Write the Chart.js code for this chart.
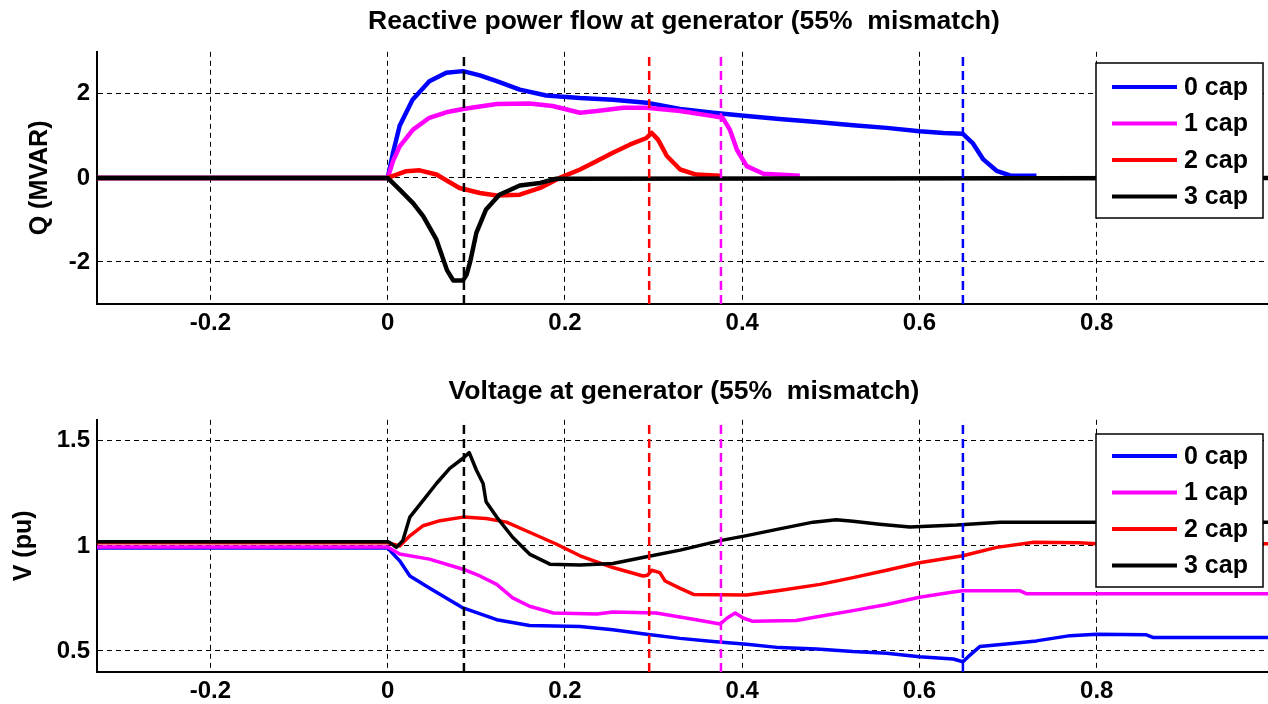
<!DOCTYPE html>
<html>
<head>
<meta charset="utf-8">
<script src="https://cdn.jsdelivr.net/npm/chart.js@4/dist/chart.umd.min.js"></script>
<style>
  html, body { margin: 0; padding: 0; background: #fff; }
  #wrap { position: relative; width: 1268px; height: 704px; overflow: hidden; background: #fff; }
  #wrap canvas { position: absolute; left: 0; }
</style>
</head>
<body>
<div id="wrap">
  <canvas id="graficaQ" width="1368" height="352" style="top:0"></canvas>
  <canvas id="graficaV" width="1368" height="360" style="top:352px"></canvas>
</div>
<script>
// Ejes y marcas
var xMin = -0.328, xMax = 1.0;
var qMin = -3, qMax = 3;
var vMin = 0.4, vMax = 1.6;
var ticksX = [-0.2, 0, 0.2, 0.4, 0.6, 0.8, 1];
var ticksQ = [-2, 0, 2];
var ticksV = [0.5, 1, 1.5];

var nombres = ['0 cap', '1 cap', '2 cap', '3 cap'];
var colores = ['#0000ff', '#ff00ff', '#ff0000', '#000000'];

// instantes de conexión (líneas verticales discontinuas)
var tiemposCorte = [0.086, 0.295, 0.376, 0.649];
var coloresCorte = ['#000000', '#ff0000', '#ff00ff', '#0000ff'];

// Potencia reactiva Q (MVAR)
var tQ0 = [-0.33, 0, 0.006, 0.0135, 0.028, 0.047, 0.066, 0.085, 0.104, 0.123, 0.149, 0.179, 0.217, 0.254, 0.292, 0.330, 0.367, 0.405, 0.442, 0.484, 0.525, 0.563, 0.600, 0.627, 0.649, 0.660, 0.672, 0.687, 0.702, 0.732];
var q0  = [0, 0, 0.6, 1.24, 1.86, 2.3, 2.5, 2.54, 2.44, 2.30, 2.10, 1.96, 1.90, 1.86, 1.79, 1.64, 1.55, 1.47, 1.40, 1.33, 1.25, 1.19, 1.11, 1.07, 1.05, 0.83, 0.44, 0.17, 0.06, 0.05];
var tQ1 = [-0.33, 0, 0.006, 0.0135, 0.0286, 0.047, 0.066, 0.085, 0.123, 0.160, 0.186, 0.217, 0.236, 0.266, 0.292, 0.330, 0.367, 0.378, 0.386, 0.394, 0.405, 0.424, 0.465];
var q1  = [0, 0, 0.4, 0.75, 1.15, 1.43, 1.56, 1.64, 1.76, 1.77, 1.71, 1.55, 1.59, 1.67, 1.67, 1.59, 1.47, 1.43, 1.15, 0.67, 0.28, 0.10, 0.05];
var tQ2 = [-0.33, 0, 0.021, 0.036, 0.055, 0.081, 0.104, 0.123, 0.149, 0.172, 0.194, 0.217, 0.236, 0.254, 0.273, 0.292, 0.298, 0.305, 0.315, 0.330, 0.348, 0.375];
var q2  = [0, 0, 0.16, 0.18, 0.08, -0.24, -0.36, -0.42, -0.40, -0.24, 0, 0.20, 0.40, 0.60, 0.79, 0.95, 1.07, 0.91, 0.52, 0.20, 0.08, 0.05];
var tQ3 = [-0.33, 0, 0.0135, 0.0286, 0.040, 0.055, 0.067, 0.074, 0.085, 0.089, 0.093, 0.100, 0.111, 0.126, 0.149, 0.172, 0.190, 1.05];
var q3  = [0, 0, -0.28, -0.6, -0.91, -1.47, -2.2, -2.44, -2.44, -2.3, -2.0, -1.31, -0.75, -0.40, -0.18, -0.12, -0.02, 0];

// Tensión V (pu)
var tV0 = [-0.33, 0, 0.0135, 0.025, 0.047, 0.085, 0.123, 0.160, 0.217, 0.254, 0.292, 0.330, 0.367, 0.405, 0.442, 0.484, 0.525, 0.563, 0.600, 0.638, 0.649, 0.655, 0.668, 0.695, 0.732, 0.770, 0.800, 0.856, 0.864, 1.05];
var v0  = [0.99, 0.99, 0.929, 0.857, 0.80, 0.705, 0.649, 0.621, 0.617, 0.601, 0.580, 0.56, 0.545, 0.532, 0.516, 0.510, 0.497, 0.489, 0.473, 0.462, 0.449, 0.473, 0.521, 0.532, 0.548, 0.573, 0.580, 0.577, 0.564, 0.564];
var tV1 = [-0.33, 0, 0.0135, 0.047, 0.085, 0.104, 0.123, 0.141, 0.160, 0.187, 0.236, 0.254, 0.303, 0.348, 0.375, 0.383, 0.392, 0.401, 0.412, 0.461, 0.488, 0.525, 0.563, 0.600, 0.638, 0.649, 0.713, 0.721, 1.05];
var v1  = [0.995, 0.995, 0.961, 0.937, 0.889, 0.857, 0.817, 0.753, 0.713, 0.681, 0.676, 0.685, 0.681, 0.649, 0.628, 0.657, 0.681, 0.657, 0.641, 0.645, 0.665, 0.692, 0.721, 0.756, 0.781, 0.787, 0.787, 0.772, 0.772];
var tV2 = [-0.33, 0, 0.0135, 0.025, 0.040, 0.059, 0.085, 0.111, 0.134, 0.160, 0.190, 0.217, 0.254, 0.288, 0.293, 0.298, 0.307, 0.313, 0.330, 0.345, 0.405, 0.442, 0.488, 0.525, 0.563, 0.600, 0.649, 0.687, 0.729, 0.780, 0.800, 1.05];
var v2  = [1.015, 1.015, 1.0, 1.048, 1.096, 1.12, 1.137, 1.13, 1.113, 1.065, 1.009, 0.953, 0.897, 0.857, 0.86, 0.884, 0.873, 0.833, 0.798, 0.769, 0.766, 0.788, 0.817, 0.849, 0.884, 0.92, 0.953, 0.993, 1.017, 1.015, 1.01, 1.01];
var tV3 = [-0.33, 0, 0.002, 0.0098, 0.017, 0.025, 0.040, 0.055, 0.070, 0.085, 0.092, 0.100, 0.1076, 0.111, 0.123, 0.141, 0.160, 0.183, 0.217, 0.254, 0.292, 0.330, 0.375, 0.405, 0.442, 0.480, 0.506, 0.525, 0.555, 0.589, 0.642, 0.691, 1.05];
var v3  = [1.02, 1.02, 1.017, 0.993, 1.025, 1.137, 1.217, 1.297, 1.369, 1.417, 1.444, 1.361, 1.297, 1.21, 1.137, 1.041, 0.961, 0.913, 0.909, 0.916, 0.948, 0.98, 1.025, 1.049, 1.081, 1.113, 1.124, 1.117, 1.103, 1.09, 1.099, 1.113, 1.113];

var fuente = "'Liberation Sans', Arial, sans-serif";

function puntos(t, y) {
    var r = [];
    for (var i = 0; i < t.length; i++) r.push({ x: t[i], y: y[i] });
    return r;
}

// Leyenda con recuadro dentro del área del gráfico
var leyendaCaja = {
    id: 'leyendaCaja',
    afterDraw: function (chart, args, opts) {
        var ctx = chart.ctx;
        ctx.save();
        ctx.fillStyle = '#fff';
        ctx.fillRect(opts.x, opts.y, opts.w, opts.h);
        ctx.lineWidth = 1.5;
        ctx.strokeStyle = '#000';
        ctx.strokeRect(opts.x, opts.y, opts.w, opts.h);
        ctx.font = 'bold 25px ' + fuente;
        ctx.textBaseline = 'middle';
        ctx.textAlign = 'left';
        for (var i = 0; i < nombres.length; i++) {
            var yy = opts.y + opts.first + i * opts.step;
            ctx.beginPath();
            ctx.lineWidth = 4;
            ctx.strokeStyle = colores[i];
            ctx.moveTo(opts.x + 16, yy);
            ctx.lineTo(opts.x + 81, yy);
            ctx.stroke();
            ctx.fillStyle = '#000';
            ctx.fillText(nombres[i], opts.x + 88, yy + 1);
        }
        ctx.restore();
    }
};

function crearGrafica(id, series, yMin, yMax, ticksY, titulo, tituloY, cfg) {
    var datasets = [];
    for (var i = 0; i < series.length; i++) {
        datasets.push({
            label: nombres[i],
            data: puntos(series[i][0], series[i][1]),
            borderColor: colores[i],
            borderWidth: cfg.ancho,
            borderJoinStyle: 'round',
            pointRadius: 0,
            tension: 0,
            order: 10 - i
        });
    }
    for (var j = 0; j < tiemposCorte.length; j++) {
        datasets.push({
            label: 'corte' + j,
            data: [{ x: tiemposCorte[j], y: yMin }, { x: tiemposCorte[j], y: yMax }],
            borderColor: coloresCorte[j],
            borderWidth: 2.5,
            borderDash: [9, 5],
            pointRadius: 0,
            order: 1
        });
    }
    var ctx = document.getElementById(id).getContext('2d');
    return new Chart(ctx, {
        type: 'line',
        data: { datasets: datasets },
        options: {
            responsive: false,
            animation: false,
            devicePixelRatio: 1,
            layout: { padding: 0 },
            plugins: {
                legend: { display: false },
                tooltip: { enabled: false },
                title: {
                    display: true,
                    text: titulo,
                    color: '#000',
                    font: { family: fuente, size: 26.5, weight: 'bold' },
                    padding: cfg.tituloPad
                },
                leyendaCaja: cfg.leyenda
            },
            scales: {
                x: {
                    type: 'linear',
                    min: xMin,
                    max: xMax,
                    afterBuildTicks: function (s) { s.ticks = ticksX.map(function (v) { return { value: v }; }); },
                    afterFit: function (s) { s.height = cfg.altoX; },
                    grid: { color: '#000', lineWidth: 1, drawTicks: false },
                    border: { display: true, color: '#000', width: 2, dash: [5, 4] },
                    ticks: {
                        color: '#000',
                        padding: 5,
                        maxRotation: 0,
                        font: { family: fuente, size: 24, weight: 'bold' },
                        callback: function (v) { return String(v); }
                    }
                },
                y: {
                    type: 'linear',
                    min: yMin,
                    max: yMax,
                    afterBuildTicks: function (s) { s.ticks = ticksY.map(function (v) { return { value: v }; }); },
                    afterFit: function (s) { s.width = 97; },
                    grid: { color: '#000', lineWidth: 1, drawTicks: false },
                    border: { display: true, color: '#000', width: 2, dash: [5, 4] },
                    ticks: {
                        color: '#000',
                        padding: 7,
                        font: { family: fuente, size: 24, weight: 'bold' },
                        callback: function (v) { return String(v); }
                    },
                    title: {
                        display: true,
                        text: tituloY,
                        color: '#000',
                        font: { family: fuente, size: 25, weight: 'bold' },
                        padding: { top: cfg.tituloYPad, bottom: 0 }
                    }
                },
                derecha: {
                    type: 'linear',
                    position: 'right',
                    display: true,
                    afterFit: function (s) { s.width = 94; },
                    grid: { display: false },
                    border: { display: false },
                    ticks: { display: false }
                }
            }
        },
        plugins: [leyendaCaja]
    });
}

var graficaQ = crearGrafica('graficaQ',
    [[tQ0, q0], [tQ1, q1], [tQ2, q2], [tQ3, q3]],
    qMin, qMax, ticksQ,
    'Reactive power flow at generator (55%  mismatch)', 'Q (MVAR)',
    {
        ancho: 4.5,
        altoX: 48,
        tituloPad: { top: 6, bottom: 14 },
        tituloYPad: 25,
        leyenda: { x: 1096, y: 63, w: 167, h: 155, first: 24, step: 36.5 }
    });

var graficaV = crearGrafica('graficaV',
    [[tV0, v0], [tV1, v1], [tV2, v2], [tV3, v3]],
    vMin, vMax, ticksV,
    'Voltage at generator (55%  mismatch)', 'V (pu)',
    {
        ancho: 3.5,
        altoX: 40,
        tituloPad: { top: 24, bottom: 12 },
        tituloYPad: 9,
        leyenda: { x: 1096, y: 82, w: 167, h: 153, first: 22, step: 36.5 }
    });
</script>
</body>
</html>
